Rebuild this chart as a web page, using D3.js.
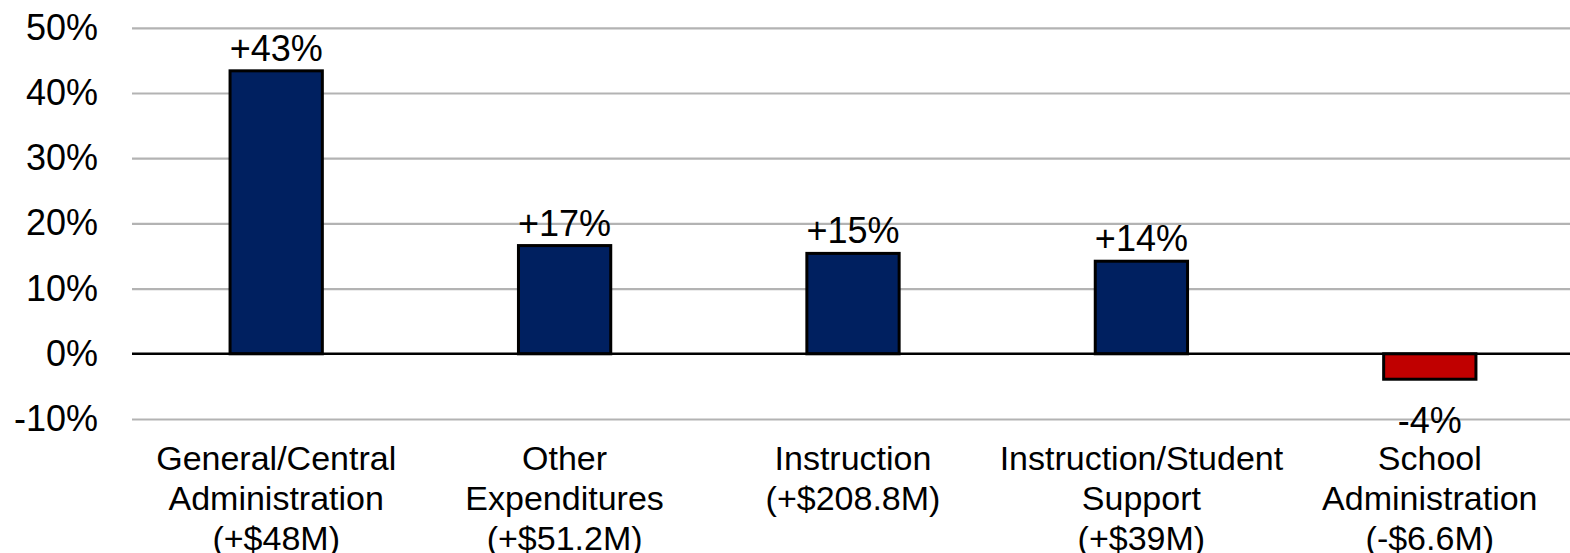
<!DOCTYPE html>
<html>
<head>
<meta charset="utf-8">
<script src="https://cdn.jsdelivr.net/npm/d3@7"></script>
<style>
  body { margin: 0; background: #fff; }
  svg text { font-family: "Liberation Sans", Arial, sans-serif; fill: #000; }
</style>
</head>
<body>
<div id="chart"></div>
<script>
// data
const categories = ["General/Central Administration", "Other Expenditures", "Instruction", "Instruction/Student Support", "School Administration"];
const categoryLines = [
  ["General/Central", "Administration"],
  ["Other", "Expenditures"],
  ["Instruction"],
  ["Instruction/Student", "Support"],
  ["School", "Administration"]
];
const dollarChange = ["(+$48M)", "(+$51.2M)", "(+$208.8M)", "(+$39M)", "(-$6.6M)"];
const pctChange = [43.4, 16.6, 15.4, 14.2, -3.9];
const pctLabels = ["+43%", "+17%", "+15%", "+14%", "-4%"];
const yTicks = [-10, 0, 10, 20, 30, 40, 50];

const width = 1570, height = 553;
const tickFont = 36;
const catFont = 34;

const svg = d3.select("#chart").append("svg")
  .attr("width", width)
  .attr("height", height);

const x = d3.scaleBand()
  .domain(categories)
  .range([132, 1574])
  .paddingInner(0.68)
  .paddingOuter(0.34);

const y = d3.scaleLinear()
  .domain([-10, 50])
  .range([419, 27.8]);

// gridlines
svg.append("g")
  .attr("transform", "translate(132,0)")
  .call(d3.axisLeft(y).tickValues(yTicks.filter(d => d !== 0)).tickSize(-(width - 132)).tickFormat(""))
  .call(g => g.select(".domain").remove())
  .call(g => g.selectAll("line").attr("stroke", "#b3b3b3").attr("stroke-width", 2.2));

// y labels
svg.append("g")
  .attr("transform", "translate(98,0)")
  .call(d3.axisLeft(y).tickValues(yTicks).tickSize(0).tickPadding(0).tickFormat(d => d + "%"))
  .call(g => g.select(".domain").remove())
  .call(g => g.selectAll("text")
    .attr("font-size", tickFont)
    .attr("font-family", "Liberation Sans, Arial, sans-serif")
    .attr("fill", "#000")
    .attr("dy", "0.32em"));

// bars
svg.append("g")
  .selectAll("rect")
  .data(categories)
  .join("rect")
  .attr("x", d => x(d))
  .attr("width", x.bandwidth())
  .attr("y", (d, i) => y(Math.max(0, pctChange[i])))
  .attr("height", (d, i) => Math.abs(y(pctChange[i]) - y(0)))
  .attr("fill", (d, i) => pctChange[i] < 0 ? "#c00000" : "#002060")
  .attr("stroke", "#000")
  .attr("stroke-width", 3);

// zero line
svg.append("line")
  .attr("x1", 132).attr("x2", width)
  .attr("y1", y(0)).attr("y2", y(0))
  .attr("stroke", "#000")
  .attr("stroke-width", 2.6);

// value labels
svg.append("g")
  .selectAll("text")
  .data(categories)
  .join("text")
  .attr("x", d => x(d) + x.bandwidth() / 2)
  .attr("y", (d, i) => pctChange[i] >= 0 ? y(pctChange[i]) - 10 : y(pctChange[i]) + 54)
  .attr("text-anchor", "middle")
  .attr("font-size", tickFont)
  .text((d, i) => pctLabels[i]);

// category labels, three lines max
svg.append("g")
  .selectAll("text")
  .data(categories)
  .join("text")
  .attr("text-anchor", "middle")
  .attr("font-size", catFont)
  .each(function(d, i) {
    const lines = categoryLines[i].concat([dollarChange[i]]);
    const cx = x(d) + x.bandwidth() / 2;
    d3.select(this).selectAll("tspan")
      .data(lines)
      .join("tspan")
      .attr("x", cx)
      .attr("y", (l, j) => 470 + j * 40)
      .text(l => l);
  });
</script>
</body>
</html>
